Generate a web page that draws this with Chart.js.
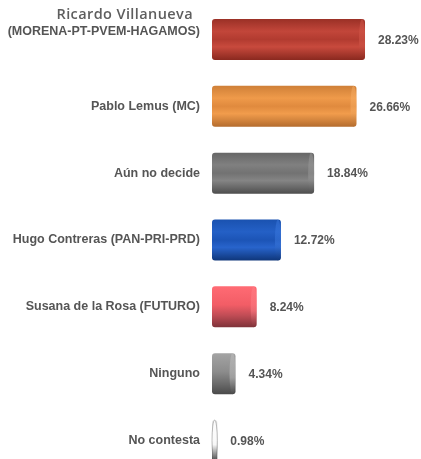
<!DOCTYPE html>
<html>
<head>
<meta charset="utf-8">
<script src="https://cdn.jsdelivr.net/npm/chart.js@4.4.1/dist/chart.umd.min.js"></script>
<style>
  html, body { margin: 0; padding: 0; background: #ffffff; overflow: hidden; width: 421px; height: 459px; }
  #wrap { position: absolute; left: 0; top: 0; width: 421px; height: 474px; }
</style>
</head>
<body>
<div id="wrap"><canvas id="c" width="421" height="474"></canvas></div>
<script>
// ---- data ----
const categories = [
  "Ricardo Villanueva (MORENA-PT-PVEM-HAGAMOS)",
  "Pablo Lemus (MC)",
  "Aún no decide",
  "Hugo Contreras (PAN-PRI-PRD)",
  "Susana de la Rosa (FUTURO)",
  "Ninguno",
  "No contesta"
];
const firstLabelName = "Ricardo Villanueva";
const firstLabelParty = "(MORENA-PT-PVEM-HAGAMOS)";
const values = [28.23, 26.66, 18.84, 12.72, 8.24, 4.34, 0.98];

// ---- styles ----
const gradientStops = [
  [[0, "#9a3026"], [0.3, "#c2463a"], [0.5, "#b23b30"], [0.68, "#c84a3d"], [1, "#8a291f"]],
  [[0, "#cf8038"], [0.3, "#ef9a4a"], [0.5, "#e08a3e"], [0.68, "#f19c4c"], [1, "#b46c2e"]],
  [[0, "#666666"], [0.3, "#808080"], [0.5, "#727272"], [0.68, "#858585"], [1, "#4e4e4e"]],
  [[0, "#1a52b0"], [0.3, "#2460c6"], [0.5, "#1c54b6"], [0.68, "#2864cc"], [1, "#0f367a"]],
  [[0, "#ff6b74"], [0.45, "#f25d66"], [0.7, "#c24d56"], [1, "#7e3239"]],
  [[0, "#a4a4a4"], [0.45, "#8c8c8c"], [0.75, "#6a6a6a"], [1, "#4a4a4a"]],
  [[0, "#e6e6e6"], [0.45, "#cfcfcf"], [0.75, "#8a8a8a"], [1, "#444444"]]
];
const capColors = ["#d4584a", "#f7ad63", "#9a9a9a", "#3a78de", "#ff8088", "#c0c0c0", "#ffffff"];
const labelColor = "#555555";

function barGradient(c) {
  const ch = c.chart;
  const ys = ch.scales && ch.scales.y;
  const stops = gradientStops[c.dataIndex];
  if (!ys || !ch.chartArea) return stops[1][1];
  const cy = ys.getPixelForValue(c.dataIndex);
  const h = 41;
  const g = ch.ctx.createLinearGradient(0, cy - h / 2, 0, cy + h / 2);
  stops.forEach(s => g.addColorStop(s[0], s[1]));
  return g;
}

const extrasPlugin = {
  id: "extras",
  afterDatasetsDraw(chart) {
    const ctx = chart.ctx;
    const meta = chart.getDatasetMeta(0);
    const ys = chart.scales.y;
    ctx.save();
    meta.data.forEach((bar, i) => {
      const p = bar.getProps(["x", "y", "base", "height"], true);
      const hh = p.height / 2;
      const rx = Math.min(3, (p.x - p.base) / 2);
      // cylinder end cap
      const g = ctx.createLinearGradient(0, p.y - hh, 0, p.y + hh);
      g.addColorStop(0, capColors[i]);
      g.addColorStop(0.6, capColors[i]);
      g.addColorStop(1, gradientStops[i][gradientStops[i].length - 1][1]);
      ctx.beginPath();
      ctx.ellipse(p.x - rx, p.y, rx, hh, 0, 0, Math.PI * 2);
      ctx.fillStyle = g;
      ctx.globalAlpha = i === 6 ? 0.9 : 0.5;
      ctx.fill();
      ctx.globalAlpha = 1;
      if (i === 6) {
        ctx.strokeStyle = "rgba(120,120,120,0.6)";
        ctx.lineWidth = 0.8;
        ctx.stroke();
      }
      // value label
      ctx.font = "bold 12px 'Liberation Sans', Arial, sans-serif";
      ctx.fillStyle = labelColor;
      ctx.textAlign = "left";
      ctx.textBaseline = "middle";
      ctx.fillText(values[i].toFixed(2) + "%", p.x + 13, p.y + 1);
    });
    // first line of the first category label
    const y0 = ys.getPixelForValue(0);
    ctx.font = "600 14.5px 'Open Sans', Lato, sans-serif";
    if ("letterSpacing" in ctx) ctx.letterSpacing = "0.4px";
    ctx.fillStyle = "#5e5e5e";
    ctx.textAlign = "right";
    ctx.textBaseline = "middle";
    ctx.fillText(firstLabelName, 193, y0 - 25);
    ctx.restore();
  }
};

new Chart(document.getElementById("c"), {
  type: "bar",
  data: {
    labels: categories,
    datasets: [{
      data: values,
      backgroundColor: barGradient,
      borderWidth: 0,
      borderRadius: 3,
      borderSkipped: false,
      categoryPercentage: 1,
      barPercentage: 0.613
    }]
  },
  options: {
    indexAxis: "y",
    responsive: false,
    animation: false,
    layout: { padding: { top: 6, right: 0, bottom: 0, left: 0 } },
    plugins: { legend: { display: false }, tooltip: { enabled: false } },
    scales: {
      x: { display: false, min: 0, max: 38.56 },
      y: {
        grid: { display: false, drawTicks: false },
        border: { display: false },
        afterFit(scale) {
          scale.width = 212;
          scale.paddingTop = 0;
          scale.paddingBottom = 0;
        },
        ticks: {
          padding: 12,
          color: labelColor,
          font: { family: "'Liberation Sans', Arial, sans-serif", size: 12.5, weight: "bold" },
          callback(value, index) {
            if (index === 0) return [firstLabelParty, ""];
            return categories[index];
          }
        }
      }
    }
  },
  plugins: [extrasPlugin]
});
</script>
</body>
</html>
